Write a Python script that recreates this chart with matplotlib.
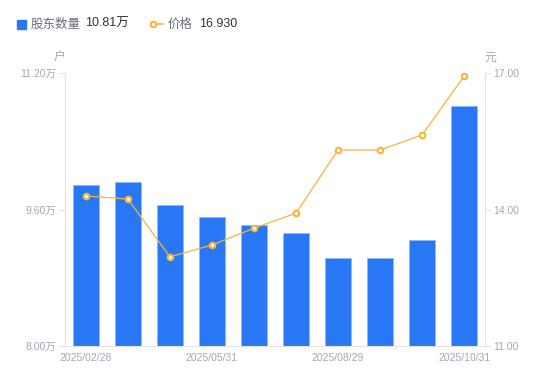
import matplotlib
matplotlib.use("Agg")
import matplotlib.pyplot as plt
import numpy as np

plt.rcParams['font.family'] = ['Liberation Sans', 'Noto Sans CJK SC', 'DejaVu Sans']

# Data
dates = ['2025/02/28', '2025/03/31', '2025/04/30', '2025/05/31', '2025/06/30',
         '2025/07/31', '2025/08/29', '2025/09/30', '2025/10/20', '2025/10/31']
holders = [9.89, 9.92, 9.65, 9.51, 9.42, 9.32, 9.03, 9.03, 9.24, 10.81]  # 万户
price = [14.30, 14.23, 12.96, 13.22, 13.59, 13.92, 15.31, 15.31, 15.64, 16.93]
shown_ticks = [0, 3, 6, 9]
left_ticks = [8.00, 9.60, 11.20]
right_ticks = [11.00, 14.00, 17.00]

BLUE = '#2878f5'
ORANGE = '#f9b23c'
GREY = '#a3a6b8'
AXIS = '#e3e4e8'
CJK = ['Noto Sans CJK SC', 'DejaVu Sans']

fig = plt.figure(figsize=(5.5, 3.81), dpi=100)
ax = fig.add_axes([0.118, 0.092, 0.764, 0.716])
x = np.arange(len(dates))
ax.bar(x, holders, width=0.62, color=BLUE, edgecolor='#8fb8f8', linewidth=0.6, zorder=2)
ax.set_xlim(-0.5, len(dates) - 0.5)
ax.set_ylim(8.0, 11.2)
ax.set_yticks(left_ticks)
ax.set_yticklabels([f'{v:.2f}万' for v in left_ticks])
ax.set_xticks([x[i] for i in shown_ticks])
ax.set_xticklabels([dates[i] for i in shown_ticks])

ax2 = ax.twinx()
ax2.plot(x, price, color=ORANGE, lw=0.9, marker='o', ms=4, mfc='white',
         mec=ORANGE, mew=1.5, zorder=3)
ax2.set_ylim(11.0, 17.0)
ax2.set_yticks(right_ticks)
ax2.set_yticklabels([f'{v:.2f}' for v in right_ticks])

for a in (ax, ax2):
    for s in a.spines.values():
        s.set_visible(False)
    a.tick_params(colors=GREY, labelsize=7.5, length=4, width=0.8, color=AXIS)
ax.spines['left'].set_visible(True)
ax.spines['left'].set_color(AXIS)
ax.spines['bottom'].set_visible(True)
ax.spines['bottom'].set_color(AXIS)
ax2.spines['right'].set_visible(True)
ax2.spines['right'].set_color(AXIS)
ax.tick_params(axis='x', length=0, pad=5)
ax.tick_params(axis='y', pad=2)
ax2.tick_params(axis='y', pad=2)

# unit labels
fig.text(59 / 550, 1 - 57 / 381, '户', color=GREY, fontsize=8.5, ha='center', va='center', family=CJK)
fig.text(490 / 550, 1 - 57 / 381, '元', color=GREY, fontsize=8.5, ha='center', va='center', family=CJK)

# legend
fig.patches.append(plt.Rectangle((17 / 550, 1 - 29 / 381), 9 / 550, 9 / 381,
                                 transform=fig.transFigure, color=BLUE, figure=fig))
fig.text(31 / 550, 1 - 24 / 381, '股东数量', color='#6b6e80', fontsize=9, va='center', family=CJK)
fig.text(85 / 550, 1 - 24 / 381, f'{holders[-1]:.2f}万', color='#333333', fontsize=9, va='center')
fig.lines.append(plt.Line2D([153 / 550, 163 / 550], [1 - 24 / 381, 1 - 24 / 381],
                            transform=fig.transFigure, color=ORANGE, lw=1.2, marker='o',
                            ms=4, mfc='white', mec=ORANGE, mew=1.5, markevery=[0]))
fig.text(168 / 550, 1 - 24 / 381, '价格', color='#6b6e80', fontsize=9, va='center', family=CJK)
fig.text(199 / 550, 1 - 24 / 381, f'{price[-1]:.3f}', color='#333333', fontsize=9, va='center')

fig.savefig('out.png', dpi=100)
